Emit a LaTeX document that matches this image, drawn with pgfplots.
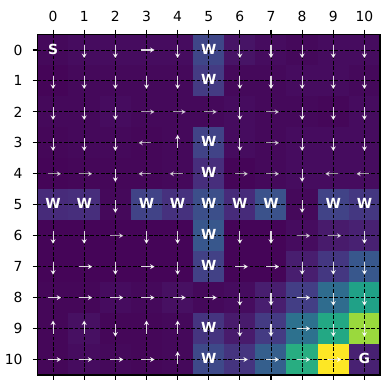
\documentclass[border=0pt]{standalone}
\usepackage{fontspec}
\setmainfont{DejaVu Sans}
\usepackage{pgfplots}
\usepackage{pgfplotstable}
\pgfplotsset{compat=1.18}
\usetikzlibrary{arrows.meta}

% row-wise cell values, normalised to the largest one
\pgfplotstableread{
x y c
0 0 .02
1 0 .03
2 0 .03
3 0 .03
4 0 .03
5 0 .21
6 0 .05
7 0 .03
8 0 .02
9 0 .03
10 0 .03
0 1 .01
1 1 .02
2 1 .02
3 1 .02
4 1 .02
5 1 .17
6 1 .02
7 1 .02
8 1 .03
9 1 .03
10 1 .02
0 2 .02
1 2 .02
2 2 .03
3 2 .02
4 2 .02
5 2 .02
6 2 .03
7 2 .02
8 2 .02
9 2 .015
10 2 .03
0 3 .015
1 3 .02
2 3 .02
3 3 .015
4 3 .02
5 3 .2
6 3 .03
7 3 .02
8 3 .03
9 3 .03
10 3 .03
0 4 .01
1 4 .015
2 4 .015
3 4 .015
4 4 .02
5 4 .13
6 4 .01
7 4 .02
8 4 .03
9 4 .03
10 4 .03
0 5 .12
1 5 .13
2 5 .02
3 5 .2
4 5 .14
5 5 .24
6 5 .12
7 5 .25
8 5 .02
9 5 .2
10 5 .16
0 6 .01
1 6 .01
2 6 .01
3 6 .01
4 6 .01
5 6 .27
6 6 .01
7 6 .01
8 6 .03
9 6 .07
10 6 .09
0 7 .01
1 7 .01
2 7 .01
3 7 .01
4 7 .01
5 7 .19
6 7 .01
7 7 .01
8 7 .08
9 7 .16
10 7 .27
0 8 .015
1 8 .015
2 8 .03
3 8 .02
4 8 .04
5 8 .02
6 8 .03
7 8 .08
8 8 .18
9 8 .35
10 8 .57
0 9 .015
1 9 .04
2 9 .015
3 9 .015
4 9 .02
5 9 .15
6 9 .07
7 9 .17
8 9 .37
9 9 .6
10 9 .85
0 10 .015
1 10 .03
2 10 .02
3 10 .015
4 10 .02
5 10 .22
6 10 .15
7 10 .3
8 10 .62
9 10 1
10 10 .09
}\cells

% policy arrows: start point and extent, in cells
\pgfplotstableread{
x y u v
1 -.16 0 .42
2 -.16 0 .42
2.84 0 .42 0
4 -.16 0 .42
6 -.16 0 .42
7 -.16 0 .42
8 -.16 0 .42
9 -.16 0 .42
10 -.16 0 .42
0 .84 0 .42
1 .84 0 .42
2 .84 0 .42
3 .84 0 .42
4 .84 0 .42
6 .84 0 .42
7 .84 0 .42
8 .84 0 .42
9 .84 0 .42
10 .84 0 .42
0 1.84 0 .42
1 1.84 0 .42
2 1.84 0 .42
6 1.84 0 .42
8 1.84 0 .42
9 1.84 0 .42
10 1.84 0 .42
0 2.84 0 .42
1 2.84 0 .42
2 2.84 0 .42
4 3.16 0 -.42
6 2.84 0 .42
8 2.84 0 .42
9 2.84 0 .42
10 2.84 0 .42
2 3.84 0 .42
8 3.84 0 .42
2 4.84 0 .42
8 4.84 0 .42
0 5.84 0 .42
1 5.84 0 .42
3 5.84 0 .42
4 5.84 0 .42
6 5.84 0 .42
7 5.84 0 .42
10 5.84 0 .42
0 6.84 0 .42
.84 7 .42 0
2 6.84 0 .42
2.84 7 .42 0
4 6.84 0 .42
5.84 7 .42 0
6.84 7 .42 0
8 6.84 0 .42
9 6.84 0 .42
10 6.84 0 .42
-.16 8 .42 0
.84 8 .42 0
1.84 8 .42 0
2.84 8 .42 0
3.84 8 .42 0
4.84 8 .42 0
6 7.84 0 .42
7 7.84 0 .42
7.84 8 .42 0
9 7.84 0 .42
10 7.84 0 .42
0 9.16 0 -.42
1 9.16 0 -.42
2 8.84 0 .42
3 9.16 0 -.42
4 9.16 0 -.42
6 8.84 0 .42
7 8.84 0 .42
7.84 9 .42 0
9 8.84 0 .42
10 8.84 0 .42
-.16 10 .42 0
.84 10 .42 0
1.84 10 .42 0
2.84 10 .42 0
4 10.16 0 -.42
5.84 10 .42 0
6.84 10 .42 0
7.84 10 .42 0
8.84 10 .42 0
}\arrowsstrong

% the fainter arrows
\pgfplotstableread{
x y u v
2.84 2 .42 0
3.84 2 .42 0
4.84 2 .42 0
6.84 2 .42 0
3.16 3 -.42 0
6.84 3 .42 0
-.16 4 .42 0
.84 4 .42 0
3.16 4 -.42 0
4.16 4 -.42 0
5.84 4 .42 0
6.84 4 .42 0
9.16 4 -.42 0
10.16 4 -.42 0
1.84 6 .42 0
7.84 6 .42 0
8.84 6 .42 0
}\arrowsfaint

% letters on the grid
\pgfplotstableread{
x y t
0 0 S
5 0 W
5 1 W
5 3 W
5 4 W
0 5 W
1 5 W
3 5 W
4 5 W
5 5 W
6 5 W
7 5 W
9 5 W
10 5 W
5 6 W
5 7 W
5 9 W
5 10 W
10 10 G
}\letters

\begin{document}
\begin{tikzpicture}
\path[use as bounding box] (-37.5bp,-15bp) rectangle (350.5bp,375bp);
\begin{axis}[
  scale only axis,
  width=342.5bp,
  height=340.5bp,
  xmin=-0.5, xmax=10.5,
  ymin=-0.5, ymax=10.5,
  y dir=reverse,
  xtick={0,...,10},
  ytick={0,...,10},
  xtick pos=both,
  xticklabel pos=top,
  ytick pos=left,
  tick align=outside,
  major tick length=4.9bp,
  tick style={black, line width=1.1bp},
  axis line style={black, line width=1.1bp},
  axis on top,
  colormap/viridis,
  point meta min=0, point meta max=1,
  tick label style={font=\fontsize{13.9bp}{16bp}\selectfont},
  /pgf/number format/assume math mode=true,
  xticklabel shift=4.5bp,
  yticklabel shift=6.5bp,
]
\addplot[matrix plot*, mesh/cols=11, point meta=explicit] table[x=x, y=y, meta=c] {\cells};
% grid lines as a plot, so that arrows and letters lie above them
\addplot[black, line width=0.9bp, dash pattern=on 3.7bp off 1.6bp, unbounded coords=jump, forget plot] coordinates {
  (0,-.5) (0,10.5) (nan,nan) (1,-.5) (1,10.5) (nan,nan) (2,-.5) (2,10.5) (nan,nan)
  (3,-.5) (3,10.5) (nan,nan) (4,-.5) (4,10.5) (nan,nan) (5,-.5) (5,10.5) (nan,nan)
  (6,-.5) (6,10.5) (nan,nan) (7,-.5) (7,10.5) (nan,nan) (8,-.5) (8,10.5) (nan,nan)
  (9,-.5) (9,10.5) (nan,nan) (10,-.5) (10,10.5) (nan,nan)
  (-.5,0) (10.5,0) (nan,nan) (-.5,1) (10.5,1) (nan,nan) (-.5,2) (10.5,2) (nan,nan)
  (-.5,3) (10.5,3) (nan,nan) (-.5,4) (10.5,4) (nan,nan) (-.5,5) (10.5,5) (nan,nan)
  (-.5,6) (10.5,6) (nan,nan) (-.5,7) (10.5,7) (nan,nan) (-.5,8) (10.5,8) (nan,nan)
  (-.5,9) (10.5,9) (nan,nan) (-.5,10) (10.5,10)
};
\addplot[
  quiver={u=\thisrow{u}, v=\thisrow{v}},
  -{Stealth[length=4.5bp, width=5bp]},
  white, opacity=0.85, line width=1.1bp,
] table[x=x, y=y] {\arrowsstrong};
\addplot[
  quiver={u=\thisrow{u}, v=\thisrow{v}},
  -{Stealth[length=4.5bp, width=5bp]},
  white, opacity=0.6, line width=1.1bp,
] table[x=x, y=y] {\arrowsfaint};
\addplot[
  only marks, mark=none,
  point meta=explicit symbolic,
  nodes near coords,
  every node near coord/.style={anchor=center, white, inner sep=0pt, yshift=1bp,
    font=\fontsize{13.9bp}{16bp}\selectfont\bfseries},
] table[x=x, y=y, meta=t] {\letters};
\end{axis}
\end{tikzpicture}
\end{document}
